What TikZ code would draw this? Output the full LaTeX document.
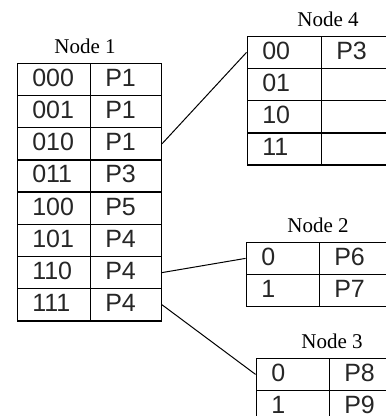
\documentclass[tikz,border=0pt]{standalone}
\usepackage{fontspec}
\setmainfont{Liberation Serif}
\newfontfamily\cellfont{Liberation Sans}
\usetikzlibrary{matrix,positioning}

\tikzset{
	cell/.style={draw, line width=1.5pt, inner xsep=15pt, inner ysep=0pt, align=left,
		minimum height=32.2pt, text height=17pt, text depth=3pt,
		font=\cellfont\fontsize{25}{25}\selectfont, text=black!85},
	tbl/.style 2 args={matrix of nodes, anchor=north west, nodes={cell},
		column sep=-1.5pt, row sep=-1.5pt,
		column 1/.style={nodes={text width=#1}},
		column 2/.style={nodes={text width=#2}}},
	lbl/.style={anchor=base, font=\fontsize{21}{21}\selectfont},
	conn/.style={line width=1pt}
}

\begin{document}
\begin{tikzpicture}[x=1pt, y=-1pt]
	\useasboundingbox (0,0) rectangle (386,416);
	\clip (0,0) rectangle (386,416);
	% tables
	\matrix (n1) [tbl={43pt}{41pt}] at (13,59) {
		000 & P1 \\
		001 & P1 \\
		010 & P1 \\
		011 & P3 \\
		100 & P5 \\
		101 & P4 \\
		110 & P4 \\
		111 & P4 \\
	};
	\matrix (n4) [tbl={44pt}{70pt}] at (243,32) {
		00 & P3 \\
		01 & \mbox{} \\
		10 & \mbox{} \\
		11 & \mbox{} \\
	};
	\matrix (n2) [tbl={43pt}{70pt}] at (242,238) {
		0 & P6 \\
		1 & P7 \\
	};
	\matrix (n3) [tbl={43pt}{70pt}] at (252,354) {
		0 & P8 \\
		1 & P9 \\
	};
	% labels
	\node [lbl] (l1) at (85,53) {Node 1};
	\node [lbl] (l4) at (328,26) {Node 4};
	\node [lbl] (l2) at (318,232) {Node 2};
	\node [lbl] (l3) at (332,348) {Node 3};
	% pointers
	\draw [conn] (n1-3-2.east) -- (n4-1-1.west);
	\draw [conn] (n1-7-2.east) -- (n2-1-1.west);
	\draw [conn] (n1-8-2.east) -- (n3-1-1.west);
\end{tikzpicture}
\end{document}
